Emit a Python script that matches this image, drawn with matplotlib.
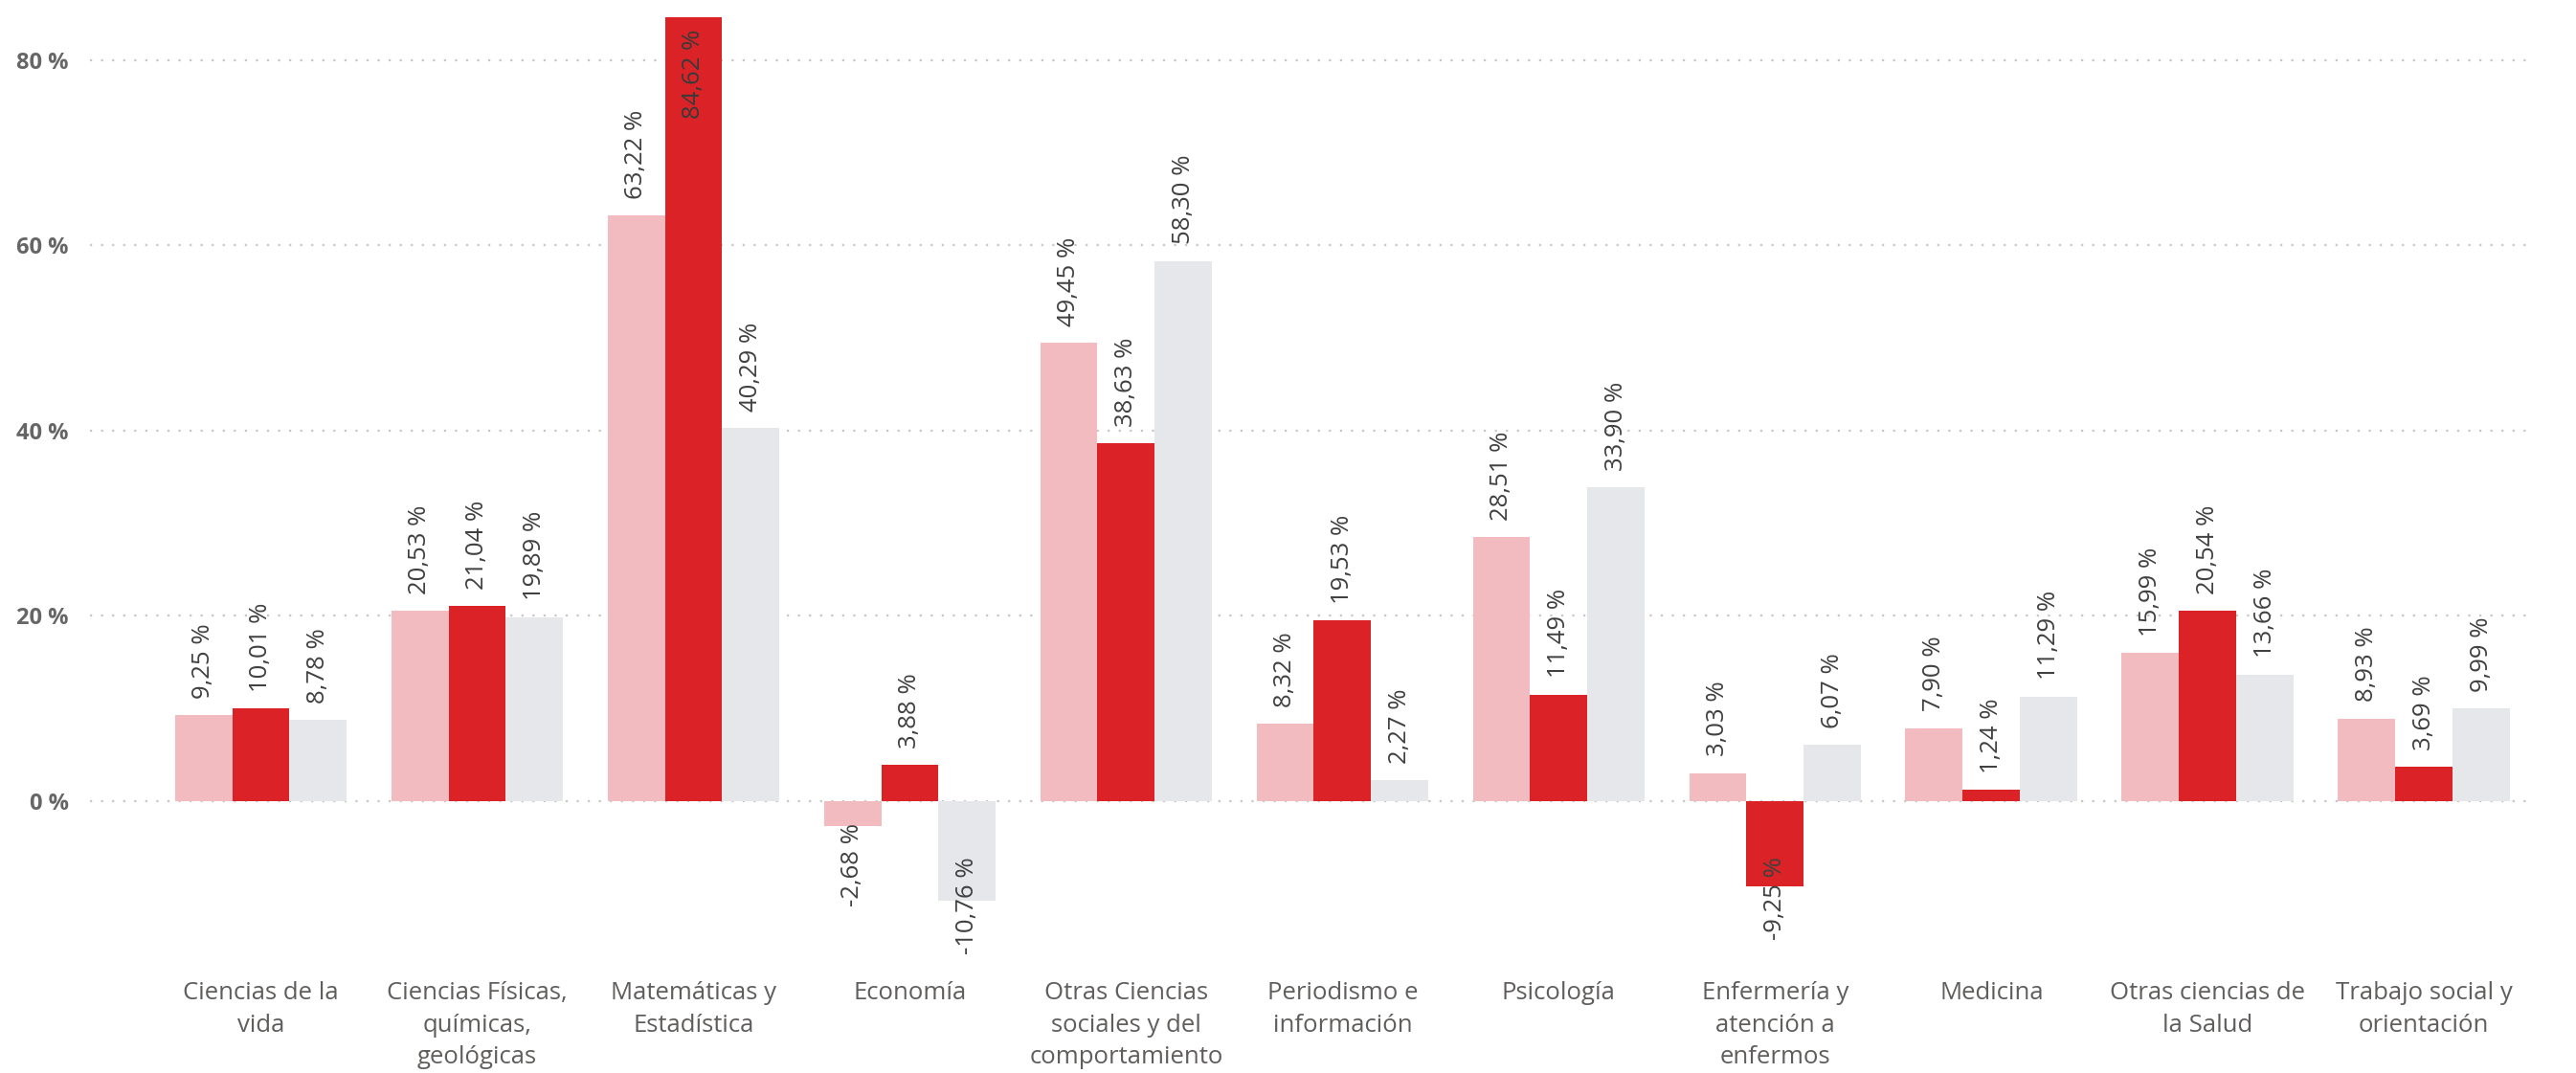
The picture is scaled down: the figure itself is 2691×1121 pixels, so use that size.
import matplotlib.pyplot as plt
import numpy as np

# Datos
categorias = ["Ciencias de la\nvida", "Ciencias Físicas,\nquímicas,\ngeológicas",
              "Matemáticas y\nEstadística", "Economía",
              "Otras Ciencias\nsociales y del\ncomportamiento", "Periodismo e\ninformación",
              "Psicología", "Enfermería y\natención a\nenfermos", "Medicina",
              "Otras ciencias de\nla Salud", "Trabajo social y\norientación"]
serie_1 = [9.25, 20.53, 63.22, -2.68, 49.45, 8.32, 28.51, 3.03, 7.90, 15.99, 8.93]
serie_2 = [10.01, 21.04, 84.62, 3.88, 38.63, 19.53, 11.49, -9.25, 1.24, 20.54, 3.69]
serie_3 = [8.78, 19.89, 40.29, -10.76, 58.30, 2.27, 33.90, 6.07, 11.29, 13.66, 9.99]
y_ticks = [0, 20, 40, 60, 80]

colores = ['#F1BBC0', '#DB2226', '#E6E7EB']

plt.rcParams['font.family'] = ['Open Sans', 'DejaVu Sans']

fig = plt.figure(figsize=(26.91, 11.21), dpi=100)
ax = fig.add_axes([94/2691, 121/1121, (2643-94)/2691, 1000/1121])

ymin, ymax = -16.85, 86.5
ax.set_ylim(ymin, ymax)
ax.set_xlim(-0.79, 10.49)

x = np.arange(len(categorias))
ancho = 0.265
label_len = 10.8  # largo aprox. de la etiqueta en unidades de datos

for i, serie in enumerate([serie_1, serie_2, serie_3]):
    pos = x + (i - 1) * ancho
    ax.bar(pos, serie, width=ancho, color=colores[i], zorder=2)
    for px_, v in zip(pos, serie):
        txt = f"{v:.2f} %".replace('.', ',')
        if v >= 0:
            if v + 1.8 + label_len > ymax:
                # no cabe arriba: dentro de la barra
                ax.text(px_, v - 1.3, txt, rotation=90, ha='center', va='top',
                        fontsize=18.5, color='#3A3A3A', zorder=3)
            else:
                ax.text(px_, v + 1.8, txt, rotation=90, ha='center', va='bottom',
                        fontsize=18.5, color='#404040', zorder=3)
        else:
            y_txt = max(v + 0.3, ymin + label_len)
            ax.text(px_, y_txt, txt, rotation=90, ha='center', va='top',
                    fontsize=18.5, color='#404040', zorder=3)

# Ejes
ax.set_yticks(y_ticks)
ax.set_yticklabels([f"{t} %" for t in y_ticks], fontsize=17, fontweight='bold', color='#666666')
ax.set_xticks(x)
ax.set_xticklabels(categorias, fontsize=18.5, color='#605E5C', linespacing=1.45, va='top')
ax.tick_params(axis='both', length=0)
ax.tick_params(axis='x', pad=18)
ax.tick_params(axis='y', pad=16)
ax.yaxis.grid(True, color='#C8C6C4', linestyle=(0, (1, 4.2)), linewidth=1.6, zorder=1)
ax.set_axisbelow(True)
for s in ax.spines.values():
    s.set_visible(False)

fig.savefig('out.png', dpi=100)
